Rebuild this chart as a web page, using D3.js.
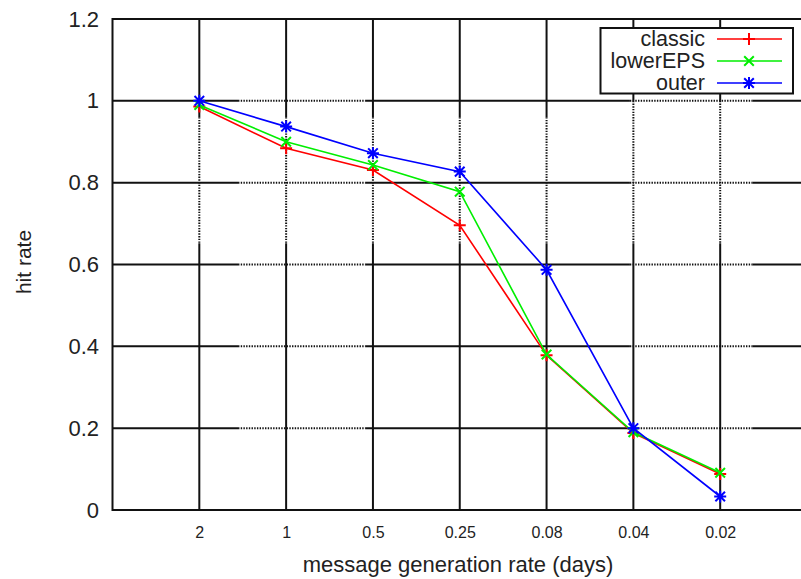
<!DOCTYPE html>
<html>
<head>
<meta charset="utf-8">
<script src="https://cdn.jsdelivr.net/npm/d3@7"></script>
<style>
    body { margin: 0; background: #fff; }
    svg text { font-family: "Liberation Sans", Arial, sans-serif; fill: #222; }
</style>
</head>
<body>
<svg id="chart" width="801" height="579"></svg>
<script>
// Chart data
const rateLabels = ['2', '1', '0.5', '0.25', '0.08', '0.04', '0.02'];
const classic = [0.986, 0.884, 0.831, 0.696, 0.378, 0.188, 0.088];
const lowerEPS = [0.99, 0.90, 0.843, 0.778, 0.38, 0.19, 0.091];
const outer = [1.0, 0.937, 0.872, 0.827, 0.587, 0.2, 0.033];
const yTicks = [0, 0.2, 0.4, 0.6, 0.8, 1, 1.2];

const series = [
    { name: 'classic', values: classic, color: '#ff0000', marker: 'plus' },
    { name: 'lowerEPS', values: lowerEPS, color: '#00ee00', marker: 'cross' },
    { name: 'outer', values: outer, color: '#0000ff', marker: 'star' }
];

const svg = d3.select('#chart');

// Scales: categories sit at 1..7, frame runs 0..8
const x = d3.scaleLinear().domain([0, 8]).range([112.5, 807]);
const y = d3.scaleLinear().domain([0, 1.2]).range([510, 19]);

const grid = svg.append('g');

function gridLine(x1, y1, x2, y2, dotted) {
    const l = grid.append('line')
        .attr('x1', x1).attr('y1', y1)
        .attr('x2', x2).attr('y2', y2)
        .attr('stroke', '#111');
    if (dotted) {
        l.attr('stroke-width', 2).attr('stroke-dasharray', '1.4,1.3');
    } else {
        l.attr('stroke-width', 2);
    }
    return l;
}

// Horizontal grid lines: dotted over two x stretches
const hDotted = [[1.446, 2.91], [5.96, 7.37]];
yTicks.filter(v => v > 0 && v < 1.2).forEach(v => {
    const yy = y(v);
    let start = 0;
    hDotted.forEach(([a, b]) => {
        gridLine(x(start), yy, x(a), yy, false);
        gridLine(x(a), yy, x(b), yy, true);
        start = b;
    });
    gridLine(x(start), yy, x(8), yy, false);
});

// Vertical grid lines: dotted over a y stretch
d3.range(1, 8).forEach(i => {
    const xx = x(i);
    const top = i >= 6 ? 1.0 : 0.96;
    gridLine(xx, y(1.2), xx, y(top), false);
    gridLine(xx, y(top), xx, y(0.652), true);
    gridLine(xx, y(0.652), xx, y(0), false);
});

// Frame
svg.append('rect')
    .attr('x', x(0)).attr('y', y(1.2))
    .attr('width', x(8) - x(0)).attr('height', y(0) - y(1.2))
    .attr('fill', 'none').attr('stroke', '#111').attr('stroke-width', 2);

// Axes
const yAxis = svg.append('g')
    .attr('transform', `translate(${x(0)},0)`)
    .call(d3.axisLeft(y).tickValues(yTicks).tickFormat(d3.format('~g')).tickSize(0).tickPadding(13.5));
yAxis.select('.domain').remove();
yAxis.selectAll('text').attr('font-size', 22).style('font-family', '"Liberation Sans", Arial, sans-serif').attr('fill', '#222');

const xAxis = svg.append('g')
    .attr('transform', `translate(0,${y(0)})`)
    .call(d3.axisBottom(x).tickValues(d3.range(1, 8)).tickFormat(i => rateLabels[i - 1]).tickSize(0).tickPadding(16.6));
xAxis.select('.domain').remove();
xAxis.selectAll('text').attr('font-size', 16).style('font-family', '"Liberation Sans", Arial, sans-serif').attr('fill', '#222');

// Axis titles
svg.append('text')
    .attr('x', 458).attr('y', 572)
    .attr('text-anchor', 'middle')
    .attr('font-size', 22)
    .text('message generation rate (days)');

svg.append('text')
    .attr('transform', 'translate(31,262) rotate(-90)')
    .attr('text-anchor', 'middle')
    .attr('font-size', 21)
    .text('hit rate');

// Marker shapes
function markerPath(type, s) {
    const p = d3.path();
    if (type === 'plus' || type === 'star') {
        p.moveTo(-s, 0); p.lineTo(s, 0);
        p.moveTo(0, -s); p.lineTo(0, s);
    }
    if (type === 'cross' || type === 'star') {
        const c = s * 0.8;
        p.moveTo(-c, -c); p.lineTo(c, c);
        p.moveTo(-c, c); p.lineTo(c, -c);
    }
    return p.toString();
}

// Series lines and markers
const line = d3.line()
    .x((d, i) => x(i + 1))
    .y(d => y(d));

series.forEach(s => {
    const g = svg.append('g');
    g.append('path')
        .datum(s.values)
        .attr('d', line)
        .attr('fill', 'none')
        .attr('stroke', s.color)
        .attr('stroke-width', 1.6);
    g.selectAll('path.mark')
        .data(s.values)
        .enter().append('path')
        .attr('class', 'mark')
        .attr('transform', (d, i) => `translate(${x(i + 1)},${y(d)})`)
        .attr('d', markerPath(s.marker, 6))
        .attr('fill', 'none')
        .attr('stroke', s.color)
        .attr('stroke-width', 2);
});

// Legend
const legend = svg.append('g');
legend.append('rect')
    .attr('x', 600.5).attr('y', 28)
    .attr('width', 192.5).attr('height', 65.5)
    .attr('fill', '#fff').attr('stroke', '#111').attr('stroke-width', 2);

series.forEach((s, i) => {
    const rowY = 39 + i * 22;
    legend.append('text')
        .attr('x', 705).attr('y', rowY + 7)
        .attr('text-anchor', 'end')
        .attr('font-size', 21.5)
        .text(s.name);
    legend.append('line')
        .attr('x1', 717).attr('x2', 782)
        .attr('y1', rowY).attr('y2', rowY)
        .attr('stroke', s.color).attr('stroke-width', 1.6);
    legend.append('path')
        .attr('transform', `translate(749,${rowY})`)
        .attr('d', markerPath(s.marker, 6))
        .attr('fill', 'none')
        .attr('stroke', s.color)
        .attr('stroke-width', 2);
});
</script>
</body>
</html>
